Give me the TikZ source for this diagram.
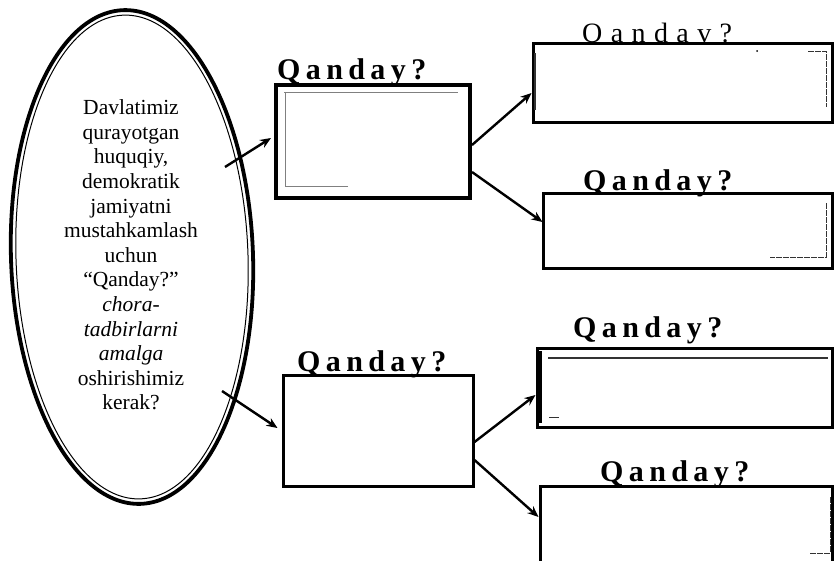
\documentclass[tikz,border=0pt]{standalone}
\usepackage{fontspec}
\setmainfont{Liberation Serif}
\newfontfamily\lblfont[LetterSpace=18]{Liberation Serif}
\newfontfamily\lbllight[LetterSpace=30]{Liberation Serif}
\usetikzlibrary{shapes.geometric,arrows.meta,calc}
\tikzset{
  box/.style={draw, line width=3pt, inner sep=0pt, rectangle},
  qlabel/.style={anchor=base west, inner sep=0pt, font=\lblfont\bfseries\fontsize{30}{32}\selectfont},
  arr/.style={line width=2.4pt, -{Stealth[length=11pt,width=9pt]}},
  scan/.style={line width=0.9pt, black!80},
}
\begin{document}
\begin{tikzpicture}[x=1pt,y=-1pt]
\useasboundingbox (0,0) rectangle (834,560);
\fill[white] (0,0) rectangle (834,560);
\clip (0,0) rectangle (834,560);

% ellipse
\node[ellipse, draw, line width=3.8pt, minimum width=242pt, minimum height=494pt, inner sep=0pt, rotate=2] (ell) at (132,257) {};
\node[ellipse, draw, line width=1pt, minimum width=232pt, minimum height=484pt, inner sep=0pt, rotate=2] (ellin) at (132,257) {};
\node[align=center, inner sep=0pt, font=\fontsize{21.5}{24.6}\selectfont] (elltext) at (131,255) {Davlatimiz\\qurayotgan\\huquqiy,\\demokratik\\jamiyatni\\mustahkamlash\\uchun\\“Qanday?”\\\textit{chora-}\\\textit{tadbirlarni}\\\textit{amalga}\\oshirishimiz\\kerak?};

% boxes
\node[box, line width=4pt, minimum width=194pt, minimum height=113pt] (A) at (373,141.5) {};
\node[box, minimum width=299pt, minimum height=79pt] (B) at (682.5,82.5) {};
\node[box, minimum width=289pt, minimum height=75pt] (C) at (687.5,230.5) {};
\node[box, minimum width=190pt, minimum height=111pt] (D) at (378,430.5) {};
\node[box, minimum width=295pt, minimum height=79pt] (E) at (684.5,387.5) {};
\node[box, minimum width=292pt, minimum height=94pt] (F) at (686,533) {};

% labels
\node[qlabel] (lA) at (277,79) {Qanday?};
\node[anchor=base west, inner sep=0pt, font=\lbllight\fontsize{28}{30}\selectfont] (lB) at (582,42) {Oandav?};
\node[qlabel] (lC) at (583,190) {Qanday?};
\node[qlabel] (lD) at (297,371) {Qanday?};
\node[qlabel] (lE) at (573,337) {Qanday?};
\node[qlabel] (lF) at (600,481) {Qanday?};

% connectors
\coordinate (s1) at (225,167);
\coordinate (s2) at (222,391);
\draw[arr] (s1) -- ($(A.west)+(-3,-3.5)$);
\draw[arr] (s2) -- ($(D.west)+(-4,-2.5)$);
\draw[arr] ($(A.east)+(0,3.5)$) -- ($(B.west)+(0,10.5)$);
\draw[arr] ($(A.east)+(0,30.5)$) -- ($(C.west)+(1,-8.5)$);
\draw[arr] ($(D.east)+(0,11.5)$) -- ($(E.west)+(0,7.5)$);
\draw[arr] ($(D.east)+(0,29.5)$) -- ($(F.west)+(0,-16)$);

% scan marks inside boxes
\draw[scan, black!50] (284,92) -- (458,92);
\draw[scan, black!50] (348,186) -- (285,186) -- (285,92);
\draw[scan, line width=1.3pt] (535,53) -- (535,110);
\draw[scan, dashed, dash pattern=on 6pt off 1pt] (808,51) -- (826,51) -- (826,107);
\fill (757,51) circle (1pt);
\draw[scan, dashed, dash pattern=on 6pt off 1pt] (826,203) -- (826,257) -- (770,257);
\draw[scan, line width=1.2pt] (548,358) -- (828,358);
\draw[line width=3pt] (540,351) -- (540,423);
\draw[scan] (549,417) -- (559,417);
\draw[scan, dashed, dash pattern=on 6pt off 1pt] (830,497) -- (830,553) -- (810,553);
\end{tikzpicture}
\end{document}
